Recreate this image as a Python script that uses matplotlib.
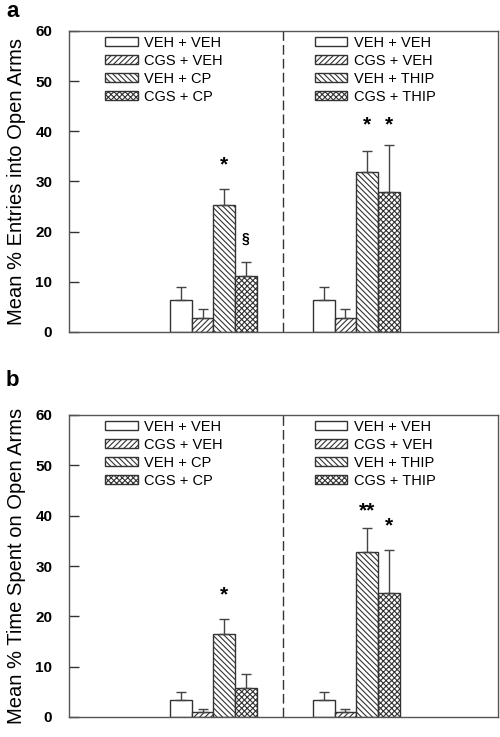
import matplotlib
matplotlib.use("Agg")
import matplotlib.pyplot as plt
import numpy as np

plt.rcParams['font.family'] = ['Liberation Sans', 'DejaVu Sans']
plt.rcParams['hatch.linewidth'] = 0.8

# ---- data ----
groups = ["CP", "THIP"]
legend_left = ["VEH + VEH", "CGS + VEH", "VEH + CP", "CGS + CP"]
legend_right = ["VEH + VEH", "CGS + VEH", "VEH + THIP", "CGS + THIP"]

# panel a: Mean % Entries into Open Arms
entries_cp = [6.3, 2.7, 25.4, 11.2]
entries_cp_err = [2.6, 1.8, 3.2, 2.8]
entries_thip = [6.3, 2.7, 31.9, 28.0]
entries_thip_err = [2.6, 1.8, 4.2, 9.3]

# panel b: Mean % Time Spent on Open Arms
time_cp = [3.3, 0.9, 16.4, 5.7]
time_cp_err = [1.7, 0.7, 3.1, 2.8]
time_thip = [3.3, 0.9, 32.7, 24.6]
time_thip_err = [1.7, 0.7, 4.9, 8.6]

# significance marks: (group index, bar index, label, y value)
marks_a = [(0, 2, "*", 33.3), (0, 3, "§", 18.5), (1, 2, "*", 41.2), (1, 3, "*", 41.2)]
marks_b = [(0, 2, "*", 24.2), (1, 2, "**", 41.0), (1, 3, "*", 37.9)]

yticks = [0, 10, 20, 30, 40, 50, 60]

# ---- style ----
hatches = [None, "//////", "\\\\\\\\\\\\", "xxxxxx"]
group_centers = [3.367, 6.694]
bar_w = 0.505
divider_x = 4.977
edge = "#333333"

fig = plt.figure(figsize=(5.0, 7.37), dpi=100)
ax_a = fig.add_axes([69/500, 1 - 332/737, 429/500, 301/737])
ax_b = fig.add_axes([69/500, 1 - 717/737, 429/500, 302/737])


def draw(ax, vals_l, err_l, vals_r, err_r, marks, ylabel, letter, letter_top):
    handles_l, handles_r = [], []
    for gi, (vals, errs) in enumerate([(vals_l, err_l), (vals_r, err_r)]):
        offs = (np.arange(4) - 1.5) * bar_w
        xs = group_centers[gi] + offs
        for i in range(4):
            b = ax.bar(xs[i], vals[i], width=bar_w, color="white",
                       edgecolor=edge, linewidth=1.0, hatch=hatches[i],
                       zorder=2)
            (handles_l if gi == 0 else handles_r).append(b)
            ax.errorbar(xs[i], vals[i], yerr=[[0], [errs[i]]], fmt="none",
                        ecolor="#444444", elinewidth=1.0, capsize=3.5,
                        capthick=1.0, zorder=3)
    for gi, bi, lab, yv in marks:
        x = group_centers[gi] + (bi - 1.5) * bar_w
        fs = 10 if lab == "§" else 15
        ax.text(x, yv, lab, ha="center", va="center", fontsize=fs,
                fontweight="bold", color="black")
    ax.axvline(divider_x, color=edge, lw=1.0, linestyle=(0, (7, 3)), zorder=1)
    ax.set_xlim(0, 10)
    ax.set_ylim(0, 60)
    ax.set_yticks(yticks)
    ax.set_yticklabels([str(t) for t in yticks], fontsize=11,
                       fontweight="bold")
    ax.tick_params(axis="y", direction="in", length=7, width=1, pad=12,
                   color=edge)
    ax.tick_params(axis="x", bottom=False, labelbottom=False)
    for s in ax.spines.values():
        s.set_color("#555555")
        s.set_linewidth(1.0)
    ax.set_ylabel(ylabel, fontsize=14.5, labelpad=7)
    leg_kw = dict(frameon=False, fontsize=10.5, handlelength=2.2,
                  handleheight=0.6, labelspacing=0.28, handletextpad=0.45,
                  borderpad=0, borderaxespad=0, loc="upper left")
    l1 = ax.legend([h[0] for h in handles_l], legend_left,
                   bbox_to_anchor=(0.085, 0.985), **leg_kw)
    ax.add_artist(l1)
    ax.legend([h[0] for h in handles_r], legend_right,
              bbox_to_anchor=(0.574, 0.985), **leg_kw)
    fig.text(0.012, letter_top, letter, fontsize=16, fontweight="bold",
             va="top", ha="left")


draw(ax_a, entries_cp, entries_cp_err, entries_thip, entries_thip_err,
     marks_a, "Mean % Entries into Open Arms", "a", 1 - 1/737)
draw(ax_b, time_cp, time_cp_err, time_thip, time_thip_err,
     marks_b, "Mean % Time Spent on Open Arms", "b", 1 - 370/737)

fig.savefig("out.png", dpi=100)
